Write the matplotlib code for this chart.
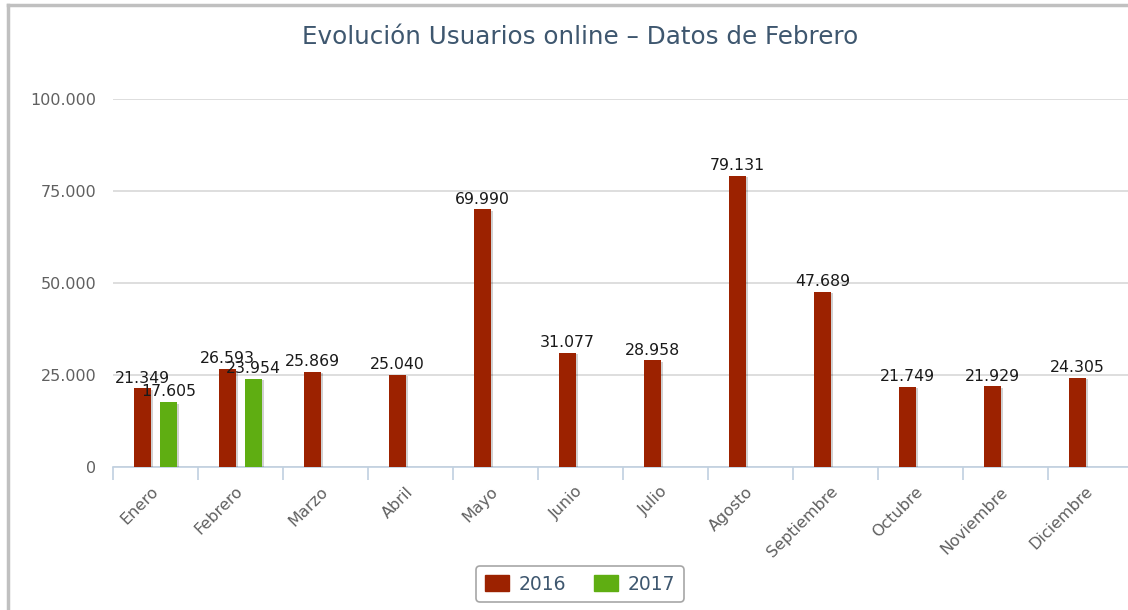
import matplotlib
matplotlib.use('Agg')
import matplotlib.patheffects as pe
import matplotlib.pyplot as plt
import numpy as np
from matplotlib.lines import Line2D
from matplotlib.patches import Patch

months = ['Enero', 'Febrero', 'Marzo', 'Abril', 'Mayo', 'Junio', 'Julio',
          'Agosto', 'Septiembre', 'Octubre', 'Noviembre', 'Diciembre']
users_2016 = [21349, 26593, 25869, 25040, 69990, 31077, 28958, 79131,
              47689, 21749, 21929, 24305]
users_2017 = [17605, 23954]
y_ticks = [0, 25000, 50000, 75000, 100000]

RED = '#9c2200'
GREEN = '#5fae12'
TITLE_COL = '#3e576f'


def fmt(v):
    return f'{v:,}'.replace(',', '.')


def main():
    W, H = 1128, 610
    fig = plt.figure(figsize=(W / 100, H / 100), dpi=100)

    # axes area in pixels: x 113..1133, y 99..467
    ax = fig.add_axes([113 / W, 1 - 467 / H, 1020 / W, 368 / H])

    x = np.arange(len(months))
    shadow = [pe.SimplePatchShadow(offset=(2, -1), shadow_rgbFace='#000000', alpha=0.18),
              pe.Normal()]
    bw = 0.19
    off = 0.153
    b16 = ax.bar(x - off, users_2016, width=bw, color=RED, zorder=3)
    b17 = ax.bar(x[:len(users_2017)] + off, users_2017, width=bw, color=GREEN, zorder=3)
    for b in list(b16) + list(b17):
        b.set_path_effects(shadow)

    for rect, v in zip(list(b16) + list(b17), users_2016 + users_2017):
        ax.annotate(fmt(v), (rect.get_x() + rect.get_width() / 2, v),
                    xytext=(0, 2), textcoords='offset points',
                    ha='center', va='bottom', fontsize=11.3, color='#1a1a1a', zorder=5)

    ax.set_xlim(-0.5, len(months) - 0.5)
    ax.set_ylim(0, 100000)
    ax.set_yticks(y_ticks)
    ax.set_yticklabels([fmt(t) for t in y_ticks])
    ax.tick_params(axis='y', length=0, pad=12, labelsize=11.5, labelcolor='#606060')
    ax.grid(axis='y', color='#d8d8d8', lw=1.2, zorder=0)
    ax.set_axisbelow(True)

    ax.set_xticks(x)
    ax.set_xticklabels(months, rotation=45, ha='right', va='center',
                       rotation_mode='anchor', fontsize=11.5, color='#606060')
    ax.tick_params(axis='x', length=0, pad=16)
    ax.set_xticks(np.arange(-0.5, len(months), 1), minor=True)
    ax.tick_params(axis='x', which='minor', length=9, width=1.2, color='#c0d0e0')

    for s in ['top', 'right', 'left']:
        ax.spines[s].set_visible(False)
    ax.spines['bottom'].set_color('#c0d0e0')
    ax.spines['bottom'].set_linewidth(1.2)

    fig.text(580 / W, 1 - 37 / H, 'Evolución Usuarios online – Datos de Febrero',
             ha='center', va='center', fontsize=17.7, color=TITLE_COL)

    handles = [Patch(facecolor=RED, edgecolor=RED), Patch(facecolor=GREEN, edgecolor=GREEN)]
    leg = fig.legend(handles, ['2016', '2017'], loc='center',
                     bbox_to_anchor=(580 / W, 1 - 584 / H), ncol=2,
                     fontsize=13.5, labelcolor=TITLE_COL, frameon=True,
                     handlelength=1.3, handleheight=1.0, columnspacing=1.5,
                     handletextpad=0.5, borderpad=0.45, fancybox=True)
    leg.get_frame().set_edgecolor('#909090')
    leg.get_frame().set_linewidth(1.2)

    # outer border of the chart container
    fig.add_artist(Line2D([7.5 / W, 7.5 / W], [0, 1 - 5 / H], color='#c0c0c0', lw=2.5))
    fig.add_artist(Line2D([7.5 / W, 1], [1 - 5 / H, 1 - 5 / H], color='#c0c0c0', lw=2.5))

    fig.savefig('out.png', dpi=100)


if __name__ == '__main__':
    main()
